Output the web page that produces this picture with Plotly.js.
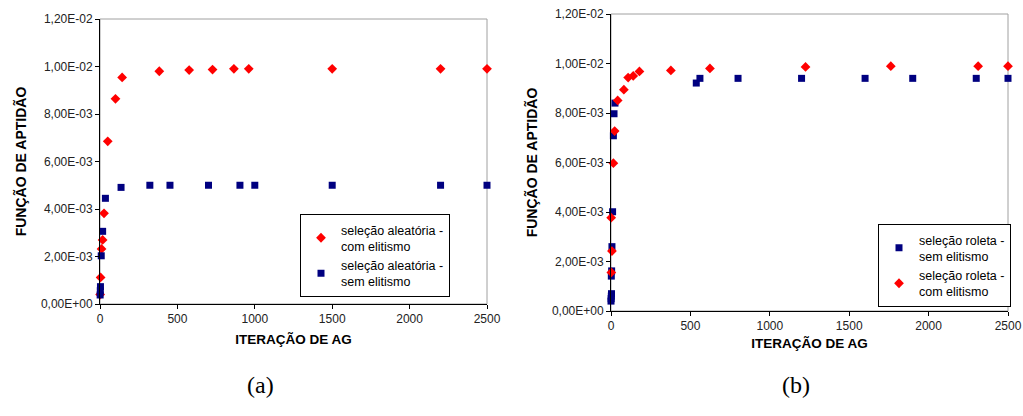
<!DOCTYPE html>
<html>
<head>
<meta charset="utf-8">
<script src="https://cdn.plot.ly/plotly-3.0.1.min.js"></script>
<style>html,body{margin:0;padding:0;background:#fff;}#chart{width:1023px;height:416px;}</style>
</head>
<body>
<div id="chart"></div>
<script>
// (a) seleção aleatória
const aComX = [1, 4, 10, 17, 26, 50, 100, 143, 383, 576, 727, 865, 961, 1500, 2200, 2500];
const aComY = [0.0004, 0.00112, 0.00232, 0.0027, 0.00382, 0.00685, 0.00864, 0.00954, 0.0098, 0.00985, 0.00987, 0.0099, 0.0099, 0.0099, 0.0099, 0.0099];
const aSemX = [1, 2, 3, 8, 17, 35, 136, 322, 452, 701, 904, 1000, 1500, 2200, 2500];
const aSemY = [0.00038, 0.00056, 0.00073, 0.00203, 0.00306, 0.00445, 0.00491, 0.005, 0.005, 0.005, 0.005, 0.005, 0.005, 0.005, 0.005];
// (b) seleção roleta
const bSemX = [0, 1, 2, 3, 2, 4, 6, 10, 15, 19, 25, 537, 560, 800, 1200, 1600, 1900, 2300, 2500];
const bSemY = [0.0004, 0.0005, 0.0006, 0.0007, 0.00141, 0.00162, 0.0026, 0.00401, 0.00708, 0.00797, 0.0084, 0.00921, 0.0094, 0.0094, 0.0094, 0.0094, 0.0094, 0.0094, 0.0094];
const bComX = [2, 6, 1, 15, 23, 42, 81, 108, 140, 179, 377, 623, 1225, 1762, 2312, 2500];
const bComY = [0.00156, 0.00242, 0.00377, 0.00597, 0.00727, 0.00851, 0.00894, 0.00943, 0.0095, 0.00968, 0.00972, 0.0098, 0.00986, 0.00989, 0.00989, 0.00989];

const yTickVals = [0, 0.002, 0.004, 0.006, 0.008, 0.01, 0.012];
const yTickText = ["0,00E+00", "2,00E-03", "4,00E-03", "6,00E-03", "8,00E-03", "1,00E-02", "1,20E-02"];
const xTickVals = [0, 500, 1000, 1500, 2000, 2500];
const xTickText = ["0", "500", "1000", "1500", "2000", "2500"];

const RED = "#ff0000", NAVY = "#000080";
const W = 1023, H = 416;
const FONT = "Liberation Sans, Arial, sans-serif";

const traces = [
  {x: aComX, y: aComY, xaxis: "x", yaxis: "y", type: "scatter", mode: "markers", cliponaxis: false,
   name: "seleção aleatória -<br>com elitismo", legend: "legend",
   marker: {symbol: "diamond", size: 7.5, color: RED}},
  {x: aSemX, y: aSemY, xaxis: "x", yaxis: "y", type: "scatter", mode: "markers", cliponaxis: false,
   name: "seleção aleatória -<br>sem elitismo", legend: "legend",
   marker: {symbol: "square", size: 7, color: NAVY}},
  {x: bSemX, y: bSemY, xaxis: "x2", yaxis: "y2", type: "scatter", mode: "markers", cliponaxis: false,
   name: "seleção roleta -<br>sem elitismo", legend: "legend2",
   marker: {symbol: "square", size: 7, color: NAVY}},
  {x: bComX, y: bComY, xaxis: "x2", yaxis: "y2", type: "scatter", mode: "markers", cliponaxis: false,
   name: "seleção roleta -<br>com elitismo", legend: "legend2",
   marker: {symbol: "diamond", size: 7.5, color: RED}}
];

function xax(domain, standoff) {
  return {domain: domain, range: [0, 2500], tickvals: xTickVals, ticktext: xTickText,
    showgrid: false, zeroline: false, showline: true, linecolor: "#000", linewidth: 1,
    ticks: "outside", ticklen: 4, tickcolor: "#000", tickfont: {family: FONT, size: 12, color: "#222"},
    ticklabeloverflow: "allow",
    title: {text: "ITERAÇÃO DE AG", font: {family: FONT, size: 13.5, color: "#000", weight: "bold"}, standoff: standoff},
    automargin: false, fixedrange: true};
}
function yax(domain, anchor, standoff) {
  return {domain: domain, anchor: anchor, range: [0, 0.012], tickvals: yTickVals, ticktext: yTickText,
    showgrid: false, zeroline: false, showline: true, linecolor: "#000", linewidth: 1,
    ticks: "outside", ticklen: 4, tickcolor: "#000", tickfont: {family: FONT, size: 12, color: "#222"},
    title: {text: "FUNÇÃO DE APTIDÃO", font: {family: FONT, size: 14, color: "#000", weight: "bold"}, standoff: standoff},
    automargin: false, fixedrange: true};
}

const legendBase = {xanchor: "left", yanchor: "bottom", bgcolor: "#fff", bordercolor: "#000", borderwidth: 1,
  tracegroupgap: 0, itemwidth: 30, font: {family: FONT, size: 12.5, color: "#000"}};

const layout = {
  width: W, height: H,
  margin: {l: 0, r: 0, t: 0, b: 0},
  paper_bgcolor: "#fff", plot_bgcolor: "#fff",
  font: {family: FONT, size: 12, color: "#000"},
  xaxis: Object.assign(xax([100 / W, 487 / W], 9), {anchor: "y"}),
  yaxis: yax([1 - 304 / H, 1 - 19 / H], "x", 10),
  xaxis2: Object.assign(xax([611 / W, 1008 / W], 6), {anchor: "y2"}),
  yaxis2: yax([1 - 311 / H, 1 - 14 / H], "x2", 10),
  legend: Object.assign({x: 300 / W, y: 1 - 297 / H}, legendBase),
  legend2: Object.assign({x: 878 / W, y: 1 - 307 / H}, legendBase),
  shapes: [
    {type: "rect", xref: "x domain", yref: "y domain", x0: 0, x1: 1, y0: 0, y1: 1,
     line: {color: "#a0a0a0", width: 1}, layer: "below"},
    {type: "rect", xref: "x2 domain", yref: "y2 domain", x0: 0, x1: 1, y0: 0, y1: 1,
     line: {color: "#a0a0a0", width: 1}, layer: "below"}
  ],
  annotations: [
    {text: "(a)", xref: "paper", yref: "paper", x: 245 / W, y: 1 - 400 / H, showarrow: false,
     font: {family: "Liberation Serif, Times New Roman, serif", size: 24, color: "#000"}},
    {text: "(b)", xref: "paper", yref: "paper", x: 812 / W, y: 1 - 400 / H, showarrow: false,
     font: {family: "Liberation Serif, Times New Roman, serif", size: 24, color: "#000"}}
  ],
  showlegend: true
};

Plotly.newPlot("chart", traces, layout, {displayModeBar: false, staticPlot: true});
</script>
</body>
</html>
